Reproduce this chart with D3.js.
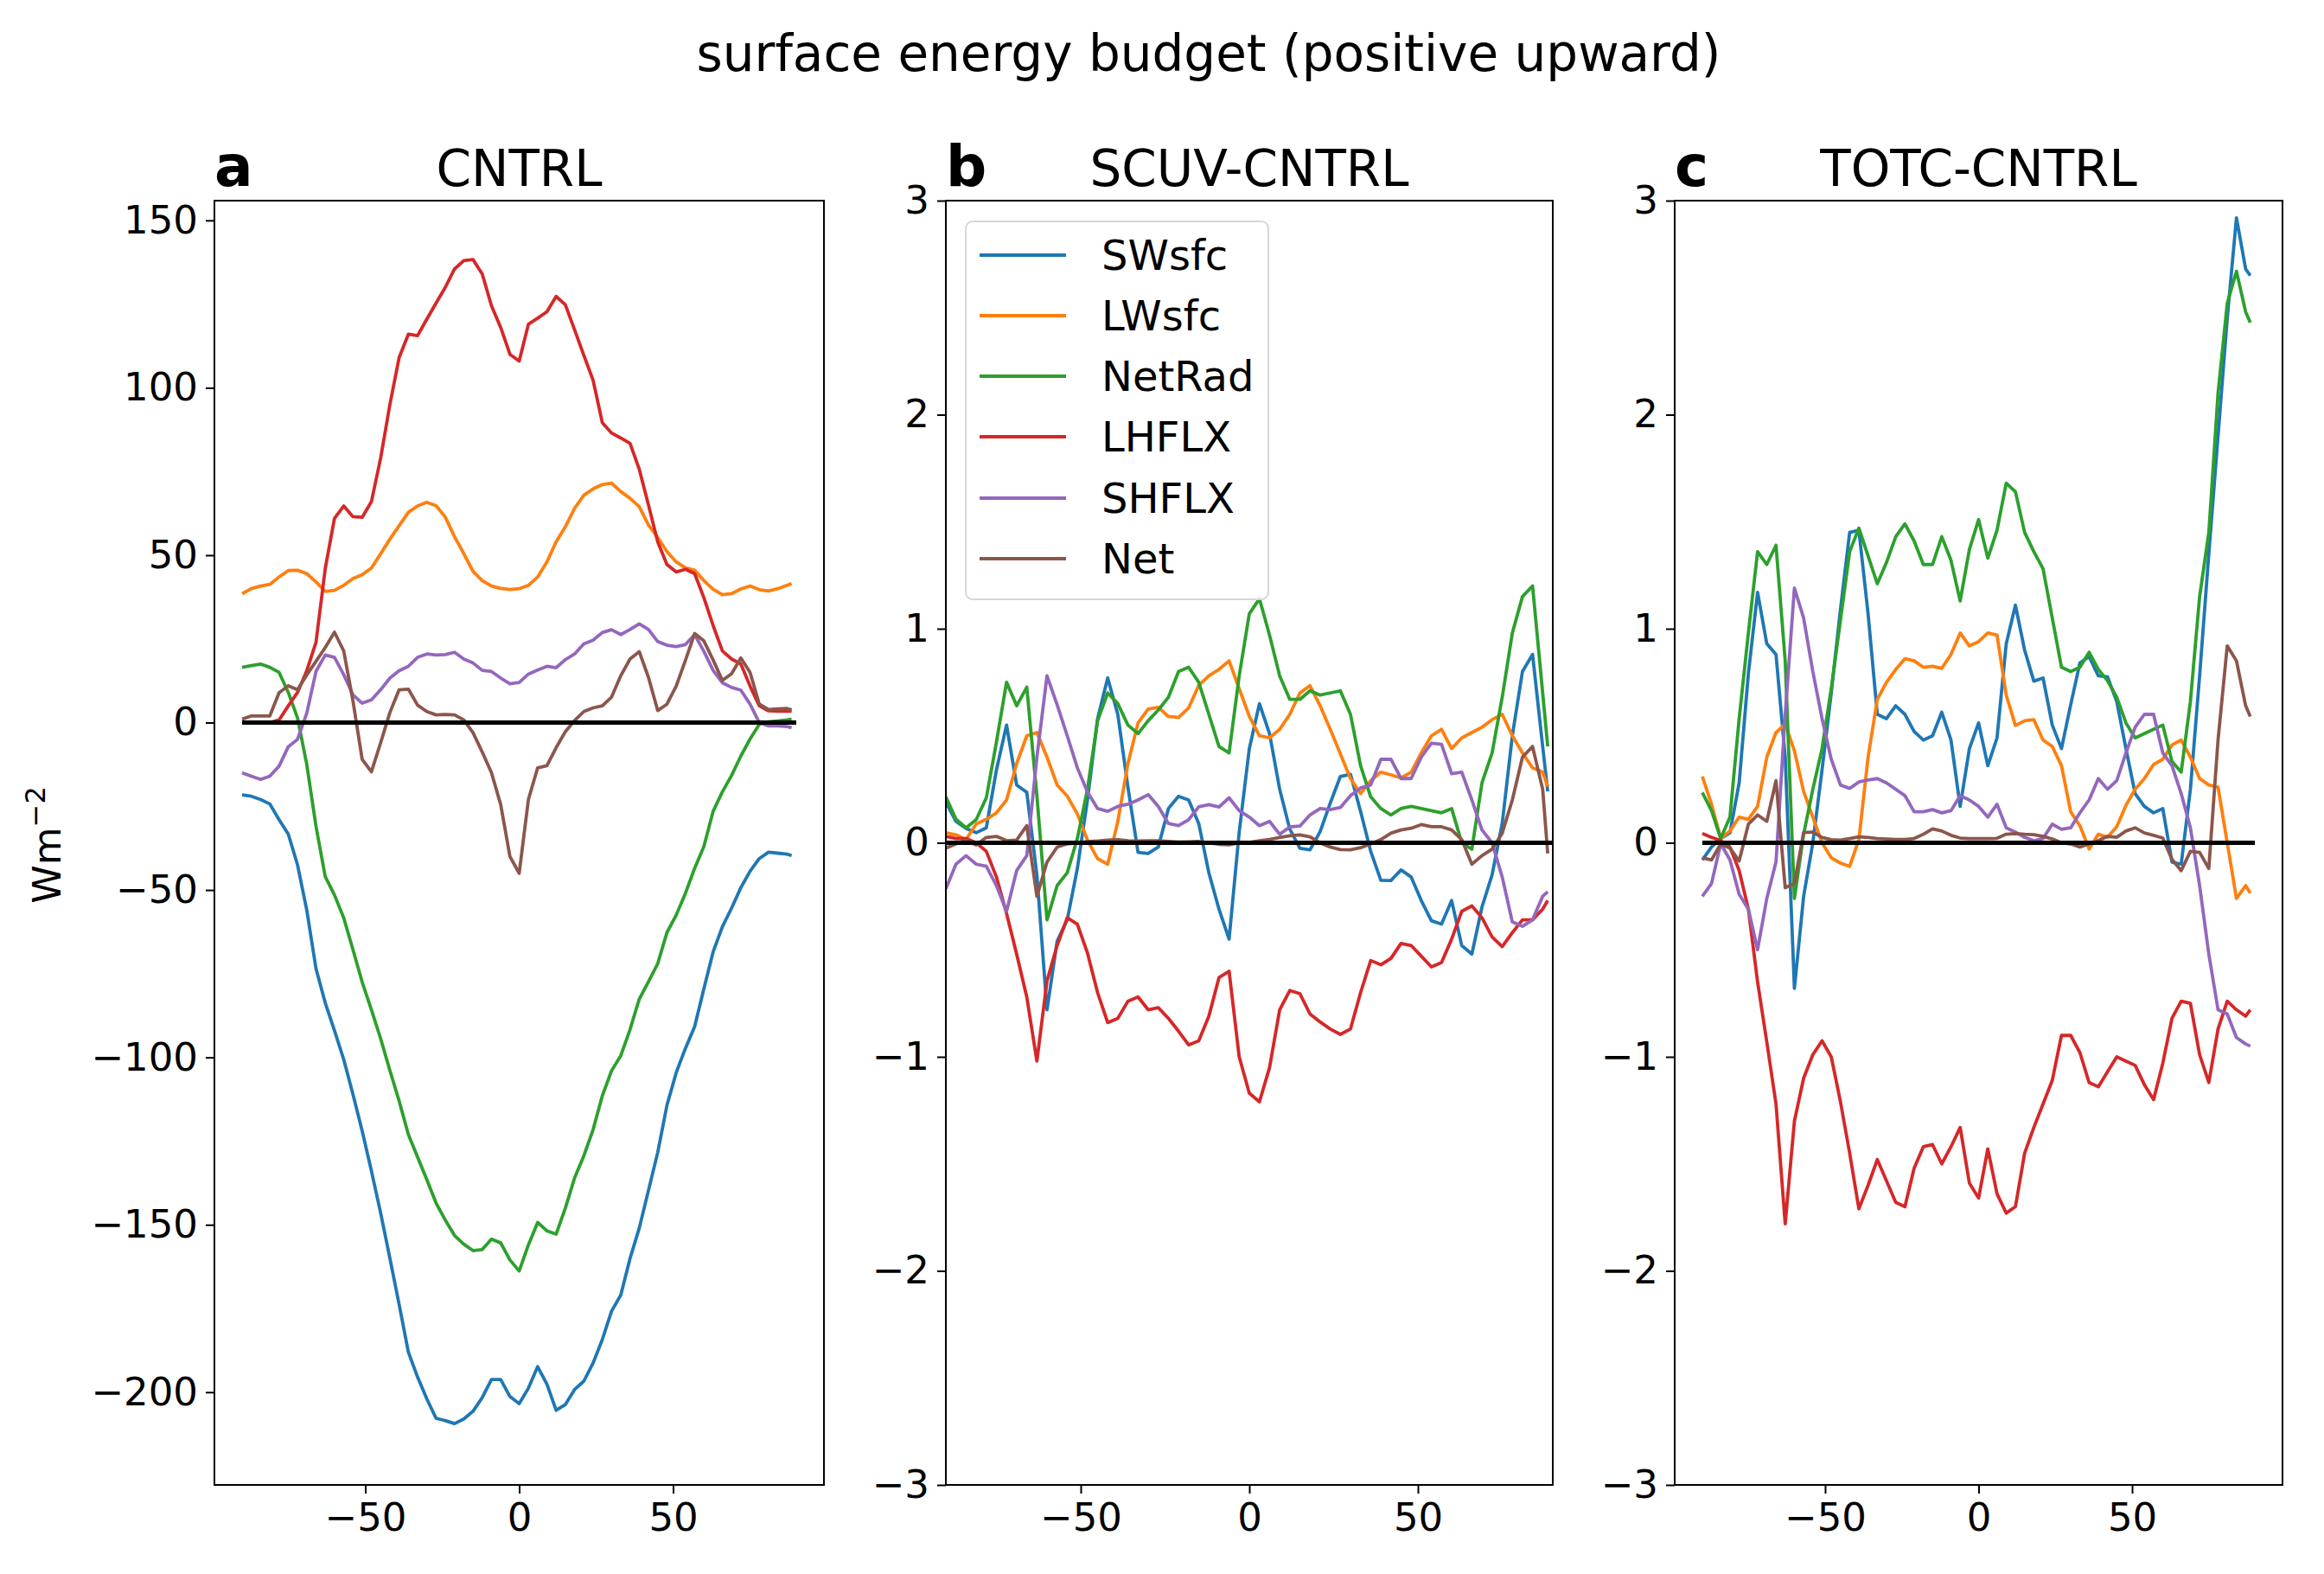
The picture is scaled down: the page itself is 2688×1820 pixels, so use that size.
<!DOCTYPE html>
<html><head><meta charset="utf-8">
<script src="https://cdn.jsdelivr.net/npm/d3@7"></script>
<style>body{margin:0;background:#fff} svg{display:block} text{font-family:"DejaVu Sans",sans-serif;fill:#000}</style>
</head><body><svg id="chart" width="2688" height="1820"></svg>
<script>
// latitude (deg)
const lat = [-90,-87,-84,-81,-78,-75,-72,-69,-66,-63,-60,-57,-54,-51,-48,-45,-42,-39,-36,-33,-30,-27,-24,-21,-18,-15,-12,-9,-6,-3,0,3,6,9,12,15,18,21,24,27,30,33,36,39,42,45,48,51,54,57,60,63,66,69,72,75,78,81,84,87,88.5];
const seriesNames = ["SWsfc","LWsfc","NetRad","LHFLX","SHFLX","Net"];
const seriesColors = ["#1f77b4","#ff7f0e","#2ca02c","#d62728","#9467bd","#8c564b"];
const panelLetters = ["a","b","c"];
const panelTitles = ["CNTRL","SCUV-CNTRL","TOTC-CNTRL"];
const xTicks = [-50,0,50];
const yTicksA = [-200,-150,-100,-50,0,50,100,150];
const yTicksBC = [-3,-2,-1,0,1,2,3];

// Panel a: CNTRL
const aSW = [-21.6,-22,-23,-24.3,-29,-33.3,-42.5,-56,-73.5,-83.7,-92,-100.6,-111,-122,-133.9,-146.5,-160,-173.8,-188,-195.5,-202,-207.8,-208.5,-209.4,-208,-205.7,-201.6,-196.2,-196.2,-201.3,-203.4,-198.8,-192.4,-197.6,-205.4,-203.7,-199.2,-196.7,-191.3,-184.3,-175.8,-171,-160.1,-151,-139.7,-128.4,-114.3,-104.6,-97.3,-90.8,-79.5,-68.5,-61,-55.4,-49.3,-44.4,-40.6,-38.7,-39,-39.3,-39.7];
const aLW = [38.5,40,40.8,41.3,43.5,45.4,45.5,44.5,42,39.2,39.5,41,43,44.2,46.2,50.4,54.8,58.8,62.8,64.7,65.8,64.8,61.4,55.5,50.5,45.2,42.4,40.8,40.1,39.75,40,41,43.5,48,54,58.5,64,67.9,69.8,71.1,71.5,69,67,64.5,59,55.3,51.1,48,46.2,45.5,42.4,39.8,38.2,38.5,39.9,40.8,39.7,39.3,40,41,41.5];
const aNR = [16.5,17,17.5,16.5,15,9,1.4,-12.5,-31,-46,-51.5,-58.3,-67.8,-77.5,-85.8,-94.4,-103.9,-113,-123,-129.8,-136.5,-143.5,-148.6,-153.2,-155.8,-157.7,-157.4,-154.3,-155.4,-160.5,-163.8,-156,-149.3,-151.8,-152.8,-145,-136,-129.4,-121.6,-111.5,-104,-99.5,-91.7,-82.6,-77.4,-72,-62.7,-57.5,-51,-43.5,-37,-26.5,-20.7,-15.8,-10,-4.9,-0.5,0.2,0.5,0.8,1];
const aLH = [0,0,0,0,0.8,5,9,15.5,24,46,61,64.7,61.5,61.3,66,79,95,109,116,115.6,120.5,125.3,130,135.5,138,138.3,134,124.5,118,110,108,119,120.8,122.7,127.3,124.8,117.3,109.7,102.3,89.6,86.5,85,83.4,75.7,65,54,47.2,45,45.8,44.5,37.3,29,21.4,19,17.5,10.9,5,3.5,3.4,3.4,3.4];
const aSH = [-15,-16,-17,-16,-13,-7.2,-5,2.8,15.3,20.2,19.5,14.3,8.3,5.8,6.8,9.8,13.3,15.5,16.8,19.5,20.5,20.2,20.3,21,19,17.8,15.6,15.25,13.3,11.6,12,14.5,15.7,16.8,16.4,18.8,20.5,23.5,24.6,26.9,27.75,26.3,27.8,29.5,27.8,24.2,23.1,22.7,23.3,26.3,21.3,15.6,11.9,10.5,9.7,5.5,0,-1,-1,-1.2,-1.5];
const aNet = [1,2,2,2,8.9,11,9.8,14.2,18.3,22.4,27,21.4,6.5,-11,-14.7,-6,3,9.8,10,5.2,3.3,2.3,2.45,2.3,0.8,-3,-8.8,-15,-24.5,-40,-45,-23,-13.5,-12.9,-7.5,-2.7,0.6,3.3,4.4,5,7.6,14,19,21.2,13.5,3.6,5.5,10.9,18.6,26.6,24.4,18.7,12.6,14.6,19.3,15,5.5,3.9,4.1,4.2,3.8];

// Panel b: SCUV-CNTRL
const bSW = [0.19,0.1,0.067,0.047,0.07,0.34,0.55,0.27,0.236,-0.15,-0.78,-0.46,-0.36,-0.12,0.2,0.58,0.77,0.6,0.26,-0.045,-0.05,-0.02,0.16,0.217,0.2,0.09,-0.14,-0.31,-0.45,0.05,0.44,0.65,0.51,0.25,0.064,-0.026,-0.033,0.052,0.185,0.31,0.32,0.146,-0.04,-0.175,-0.176,-0.127,-0.16,-0.27,-0.364,-0.38,-0.27,-0.48,-0.52,-0.3,-0.15,0.09,0.5,0.8,0.88,0.45,0.24];
const bLW = [0.047,0.037,0.015,0.088,0.11,0.14,0.2,0.37,0.5,0.515,0.4,0.27,0.218,0.135,0.013,-0.074,-0.1,0.1,0.37,0.56,0.625,0.633,0.59,0.585,0.63,0.735,0.78,0.81,0.85,0.72,0.59,0.5,0.49,0.53,0.6,0.7,0.734,0.64,0.53,0.415,0.3,0.23,0.29,0.33,0.317,0.303,0.33,0.42,0.5,0.53,0.44,0.49,0.515,0.54,0.575,0.6,0.5,0.42,0.35,0.33,0.263];
const bNR = [0.215,0.11,0.07,0.108,0.21,0.47,0.75,0.64,0.727,0.22,-0.36,-0.2,-0.14,0.02,0.25,0.57,0.7,0.65,0.55,0.51,0.57,0.62,0.68,0.8,0.82,0.75,0.6,0.45,0.42,0.78,1.07,1.14,0.97,0.78,0.67,0.67,0.71,0.69,0.7,0.71,0.6,0.36,0.215,0.16,0.13,0.16,0.17,0.16,0.15,0.14,0.16,0.0,-0.03,0.28,0.42,0.68,0.98,1.15,1.2,0.7,0.45];
const bLH = [0.03,0.02,0.02,0.0,-0.04,-0.16,-0.33,-0.52,-0.72,-1.02,-0.645,-0.48,-0.35,-0.38,-0.515,-0.7,-0.84,-0.82,-0.74,-0.72,-0.78,-0.77,-0.82,-0.88,-0.944,-0.925,-0.81,-0.63,-0.6,-1.0,-1.17,-1.21,-1.05,-0.78,-0.69,-0.705,-0.8,-0.837,-0.87,-0.895,-0.87,-0.7,-0.55,-0.57,-0.54,-0.47,-0.48,-0.53,-0.58,-0.56,-0.45,-0.32,-0.295,-0.35,-0.44,-0.485,-0.42,-0.36,-0.36,-0.31,-0.27];
const bSH = [-0.215,-0.1,-0.06,-0.1,-0.11,-0.2,-0.32,-0.13,-0.06,0.4,0.78,0.645,0.5,0.35,0.237,0.16,0.147,0.17,0.18,0.2,0.225,0.17,0.09,0.08,0.108,0.168,0.178,0.167,0.21,0.15,0.12,0.08,0.1,0.04,0.074,0.078,0.13,0.16,0.155,0.165,0.22,0.256,0.27,0.39,0.39,0.3,0.3,0.4,0.465,0.46,0.323,0.33,0.2,0.06,0.0,-0.16,-0.37,-0.39,-0.36,-0.25,-0.229];
const bNet = [-0.025,-0.005,0.012,-0.01,0.025,0.03,0.01,0.013,0.08,-0.25,-0.09,-0.02,-0.005,0.0,0.005,0.008,0.013,0.015,0.01,0.008,0.01,0.01,0.006,0.003,0.004,0.006,0.0,-0.007,-0.01,0.0,0.002,0.01,0.016,0.025,0.033,0.037,0.028,0.0,-0.02,-0.032,-0.033,-0.023,-0.005,0.015,0.045,0.06,0.068,0.085,0.075,0.075,0.06,0.015,-0.1,-0.06,-0.03,0.045,0.2,0.4,0.45,0.25,-0.05];

// Panel c: TOTC-CNTRL
const cSW = [-0.08,-0.02,0.02,0.047,0.28,0.79,1.17,0.93,0.88,0.4,-0.68,-0.25,0.0,0.34,0.7,1.09,1.45,1.46,1.07,0.6,0.58,0.64,0.6,0.52,0.48,0.5,0.61,0.48,0.17,0.44,0.56,0.36,0.49,0.93,1.11,0.9,0.755,0.77,0.55,0.44,0.645,0.84,0.87,0.78,0.775,0.66,0.44,0.23,0.17,0.14,0.16,-0.09,-0.1,0.25,0.78,1.35,1.9,2.45,2.92,2.68,2.65];
const cLW = [0.31,0.18,0.02,0.055,0.12,0.11,0.17,0.4,0.515,0.555,0.43,0.24,0.12,0.0,-0.07,-0.095,-0.11,0.015,0.4,0.67,0.75,0.81,0.86,0.85,0.82,0.825,0.815,0.88,0.98,0.92,0.94,0.98,0.97,0.69,0.548,0.57,0.575,0.48,0.45,0.36,0.145,0.08,-0.029,0.04,0.026,0.075,0.175,0.25,0.3,0.366,0.39,0.457,0.48,0.4,0.3,0.27,0.26,0.0,-0.26,-0.2,-0.235];
const cNR = [0.235,0.15,0.02,0.12,0.58,0.98,1.36,1.3,1.39,0.85,-0.26,0.04,0.25,0.44,0.72,1.04,1.36,1.47,1.34,1.21,1.31,1.43,1.49,1.41,1.3,1.3,1.43,1.32,1.13,1.37,1.51,1.33,1.46,1.68,1.64,1.45,1.36,1.28,1.05,0.82,0.8,0.82,0.89,0.81,0.757,0.68,0.56,0.49,0.51,0.53,0.55,0.38,0.33,0.66,1.15,1.45,2.1,2.52,2.67,2.48,2.43];
const cLH = [0.043,0.025,0.01,-0.02,-0.13,-0.31,-0.65,-0.93,-1.22,-1.78,-1.3,-1.1,-0.99,-0.925,-1.0,-1.21,-1.45,-1.71,-1.6,-1.48,-1.58,-1.68,-1.7,-1.52,-1.42,-1.41,-1.5,-1.42,-1.33,-1.59,-1.66,-1.43,-1.64,-1.73,-1.7,-1.45,-1.33,-1.22,-1.11,-0.9,-0.9,-0.98,-1.12,-1.14,-1.07,-1.0,-1.02,-1.04,-1.13,-1.2,-1.03,-0.82,-0.74,-0.75,-0.99,-1.12,-0.87,-0.74,-0.78,-0.81,-0.78];
const cSH = [-0.25,-0.19,-0.004,-0.08,-0.24,-0.31,-0.5,-0.26,-0.09,0.6,1.19,1.05,0.8,0.58,0.39,0.27,0.254,0.284,0.293,0.3,0.28,0.25,0.22,0.145,0.145,0.155,0.14,0.15,0.22,0.2,0.17,0.12,0.18,0.07,0.05,0.025,0.01,0.02,0.087,0.063,0.07,0.14,0.2,0.3,0.25,0.29,0.42,0.54,0.6,0.6,0.42,0.36,0.23,0.07,-0.2,-0.52,-0.78,-0.8,-0.91,-0.94,-0.95];
const cNet = [-0.07,-0.08,-0.005,-0.025,-0.085,0.087,0.13,0.1,0.29,-0.21,-0.19,0.048,0.05,0.025,0.015,0.013,0.02,0.028,0.025,0.02,0.018,0.016,0.016,0.02,0.04,0.065,0.055,0.035,0.022,0.02,0.02,0.02,0.021,0.04,0.043,0.04,0.038,0.03,0.018,0.0,-0.005,-0.02,-0.005,0.01,0.03,0.026,0.055,0.07,0.046,0.035,0.022,-0.078,-0.13,-0.04,-0.045,-0.12,0.48,0.92,0.85,0.64,0.59];

const panelSeries = [
  [aSW,aLW,aNR,aLH,aSH,aNet],
  [bSW,bLW,bNR,bLH,bSH,bNet],
  [cSW,cLW,cNR,cLH,cSH,cNet]
];

// layout
const layout = [
  {x0:248, x1:953, xdom:[-99,99], ydom:[-227.7,155.9], yticks:yTicksA},
  {x0:1094, x1:1796, xdom:[-90,90], ydom:[-3,3], yticks:yTicksBC},
  {x0:1937, x1:2640, xdom:[-99,99], ydom:[-3,3], yticks:yTicksBC}
];
const plotTop = 232, plotBottom = 1717;
const svg = d3.select("#chart");
svg.append("rect").attr("width",2688).attr("height",1820).attr("fill","#fff");

const fmt = v => (v<0 ? "\u2212" + Math.abs(v) : String(v));

svg.append("text").attr("x",1398).attr("y",82).attr("text-anchor","middle")
  .style("font-size","58px").text("surface energy budget (positive upward)");

const defs = svg.append("defs");

layout.forEach((L, i) => {
  const x = d3.scaleLinear().domain(L.xdom).range([L.x0, L.x1]);
  const y = d3.scaleLinear().domain(L.ydom).range([plotBottom, plotTop]);
  const g = svg.append("g");
  defs.append("clipPath").attr("id","clip"+i).append("rect")
    .attr("x",L.x0).attr("y",plotTop).attr("width",L.x1-L.x0).attr("height",plotBottom-plotTop);
  const plot = g.append("g").attr("clip-path","url(#clip"+i+")");
  const line = d3.line().x((d,k)=>x(lat[k])).y(d=>y(d));
  panelSeries[i].forEach((vals, s) => {
    plot.append("path").attr("d", line(vals)).attr("fill","none")
      .attr("stroke", seriesColors[s]).attr("stroke-width",3.8)
      .attr("stroke-linejoin","round").attr("stroke-linecap","butt");
  });
  plot.append("line").attr("x1",x(-90)).attr("x2",x(90)).attr("y1",y(0)).attr("y2",y(0))
    .attr("stroke","#000").attr("stroke-width",5);
  g.append("rect").attr("x",L.x0).attr("y",plotTop).attr("width",L.x1-L.x0).attr("height",plotBottom-plotTop)
    .attr("fill","none").attr("stroke","#000").attr("stroke-width",2);
  const ya = d3.axisLeft(y).tickValues(L.yticks).tickSize(10).tickPadding(9).tickFormat(fmt);
  const yg = g.append("g").attr("transform",`translate(${L.x0},0)`).call(ya);
  const xa = d3.axisBottom(x).tickValues(xTicks).tickSize(10).tickPadding(11).tickFormat(fmt);
  const xg = g.append("g").attr("transform",`translate(0,${plotBottom})`).call(xa);
  [yg,xg].forEach(ax => {
    ax.select(".domain").remove();
    ax.selectAll(".tick line").attr("stroke","#000").attr("stroke-width",2);
    ax.selectAll(".tick text").style("font-size","45px").style("font-family","DejaVu Sans").attr("fill","#000");
  });
  g.append("text").attr("x",(L.x0+L.x1)/2).attr("y",215).attr("text-anchor","middle")
    .style("font-size","58px").text(panelTitles[i]);
  g.append("text").attr("x",L.x0).attr("y",215).style("font-size","66px").style("font-weight","bold")
    .text(panelLetters[i]);
});

const yl = svg.append("text").attr("transform","translate(70,977) rotate(-90)")
  .attr("text-anchor","middle").style("font-size","45px");
yl.append("tspan").text("Wm");
yl.append("tspan").attr("dy","-18").style("font-size","32px").text("\u22122");

const lg = svg.append("g");
lg.append("rect").attr("x",1117).attr("y",256).attr("width",350).attr("height",437).attr("rx",8)
  .attr("fill","#fff").attr("fill-opacity",0.8).attr("stroke","#d6d6d6").attr("stroke-width",2);
const rowY = [295,365,435,505,576,646];
seriesNames.forEach((n, s) => {
  lg.append("line").attr("x1",1133).attr("x2",1233).attr("y1",rowY[s]).attr("y2",rowY[s])
    .attr("stroke",seriesColors[s]).attr("stroke-width",3.8);
  lg.append("text").attr("x",1274).attr("y",rowY[s]+17).style("font-size","48px").text(n);
});
</script></body></html>
